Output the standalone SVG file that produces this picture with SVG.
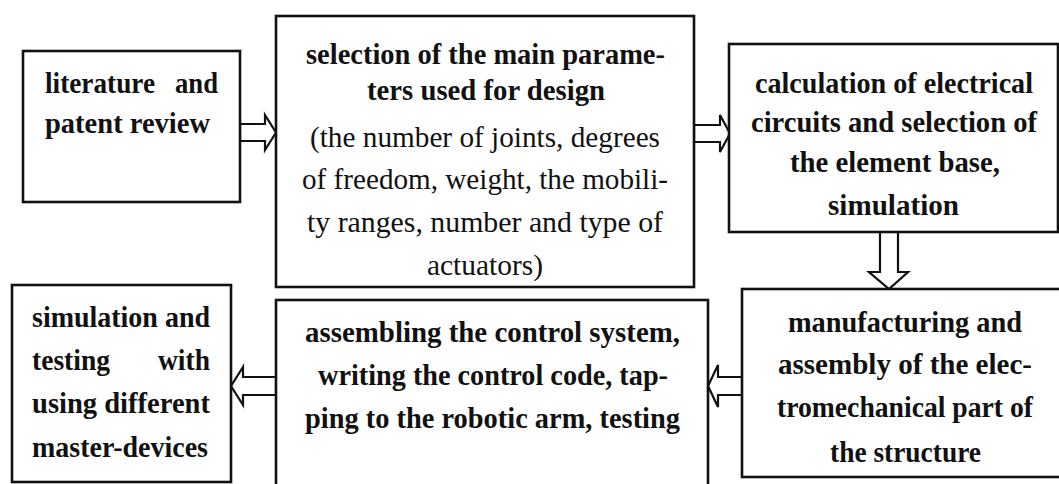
<svg xmlns="http://www.w3.org/2000/svg" width="1059" height="484" viewBox="0 0 1059 484">
<style>
.box{fill:#fff;stroke:#111;stroke-width:2.6}
.arr{fill:#fff;stroke:#111;stroke-width:2.2;stroke-linejoin:miter}
text{font-family:"Liberation Serif","Times New Roman",serif;font-size:30px;fill:#111}
.b{font-weight:bold}
.c{text-anchor:middle}
</style>
<rect width="1059" height="484" fill="#fff"/>
<g id="connectors">
<polygon class="arr" points="240,124 265,124 265,115 276,132.5 265,150 265,141 240,141"/>
<polygon class="arr" points="694,125 720,125 720,115 730,133.5 720,152 720,142 694,142"/>
<polygon class="arr" points="880,232 880,272 869,272 889,289 908,272 898,272 898,232"/>
<polygon class="arr" points="743,377 718,377 718,365 708,386 718,407 718,395 743,395"/>
<polygon class="arr" points="276,377 243,377 243,367 231,386 243,405 243,395 276,395"/>
</g>
<g id="n1">
<rect class="box" x="23" y="51" width="217" height="151"/>
<text class="b"><tspan x="45" y="93" textLength="110" lengthAdjust="spacingAndGlyphs">literature</tspan><tspan x="218" y="93" text-anchor="end" textLength="43" lengthAdjust="spacingAndGlyphs">and</tspan></text>
<text class="b" x="45" y="133" textLength="165" lengthAdjust="spacingAndGlyphs">patent review</text>
</g>
<g id="n2">
<rect class="box" x="276" y="16" width="418" height="271"/>
<text class="b c" x="485.5" y="64" textLength="359" lengthAdjust="spacingAndGlyphs">selection of the main parame-</text>
<text class="b c" x="486" y="100" textLength="238" lengthAdjust="spacingAndGlyphs">ters used for design</text>
<text class="c" x="485" y="147" textLength="350" lengthAdjust="spacingAndGlyphs">(the number of joints, degrees</text>
<text class="c" x="485" y="189" textLength="366" lengthAdjust="spacingAndGlyphs">of freedom, weight, the mobili-</text>
<text class="c" x="485" y="232" textLength="356" lengthAdjust="spacingAndGlyphs">ty ranges, number and type of</text>
<text class="c" x="485" y="275" textLength="116" lengthAdjust="spacingAndGlyphs">actuators)</text>
</g>
<g id="n3">
<rect class="box" x="729" y="44" width="329" height="188"/>
<text class="b c" x="894" y="93" textLength="278" lengthAdjust="spacingAndGlyphs">calculation of electrical</text>
<text class="b c" x="894" y="132" textLength="286" lengthAdjust="spacingAndGlyphs">circuits and selection of</text>
<text class="b c" x="895" y="172" textLength="210" lengthAdjust="spacingAndGlyphs">the element base,</text>
<text class="b c" x="893.5" y="215" textLength="131" lengthAdjust="spacingAndGlyphs">simulation</text>
</g>
<g id="n6">
<rect class="box" x="742" y="289" width="330" height="188"/>
<text class="b c" x="905" y="332" textLength="234" lengthAdjust="spacingAndGlyphs">manufacturing and</text>
<text class="b c" x="905" y="374" textLength="254" lengthAdjust="spacingAndGlyphs">assembly of the elec-</text>
<text class="b c" x="905" y="417" textLength="256" lengthAdjust="spacingAndGlyphs">tromechanical part of</text>
<text class="b c" x="905.5" y="462" textLength="151" lengthAdjust="spacingAndGlyphs">the structure</text>
</g>
<g id="n5">
<rect class="box" x="276" y="300" width="432" height="195"/>
<text class="b c" x="492.5" y="342" textLength="375" lengthAdjust="spacingAndGlyphs">assembling the control system,</text>
<text class="b c" x="493" y="385" textLength="350" lengthAdjust="spacingAndGlyphs">writing the control code, tap-</text>
<text class="b c" x="492.5" y="428" textLength="375" lengthAdjust="spacingAndGlyphs">ping to the robotic arm, testing</text>
</g>
<g id="n4">
<rect class="box" x="12" y="285" width="219" height="197"/>
<text class="b" x="32" y="327" textLength="178" lengthAdjust="spacingAndGlyphs">simulation and</text>
<text class="b"><tspan x="32" y="370" textLength="78" lengthAdjust="spacingAndGlyphs">testing</tspan><tspan x="210" y="370" text-anchor="end" textLength="52" lengthAdjust="spacingAndGlyphs">with</tspan></text>
<text class="b" x="32" y="413" textLength="178" lengthAdjust="spacingAndGlyphs">using different</text>
<text class="b" x="32" y="457" textLength="176" lengthAdjust="spacingAndGlyphs">master-devices</text>
</g>
</svg>
